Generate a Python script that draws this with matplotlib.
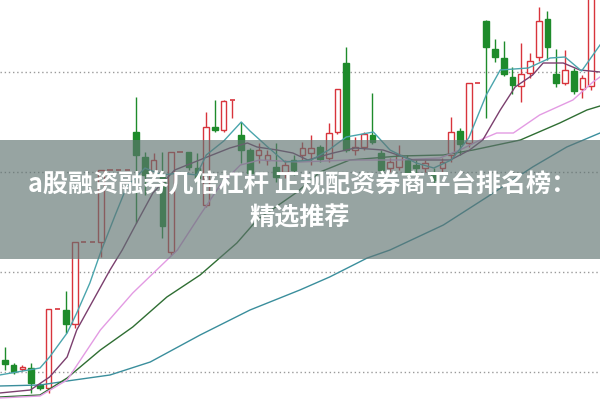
import matplotlib
matplotlib.use("Agg")
import matplotlib.pyplot as plt
from matplotlib.patches import Rectangle

plt.rcParams['font.family'] = ['Noto Sans CJK SC', 'DejaVu Sans']

# OHLC per candle (price units, one candle per index)
opens = [40, 35, 31, 32, 15, 12, 91, 90, 76, 158,
         158, 158, 230, 230, 230, 268, 243, 225, 225, 148,
         248, 248, 232, 195, 273, 270, 300, 265, 250, 245,
         240, 233, 228, 240, 245, 247, 253, 242, 268, 337,
         250, 253, 265, 247, 232, 233, 240, 235, 232, 227,
         232, 245, 269, 257, 317, 379, 351, 342, 323, 314,
         327, 343, 381, 326, 317, 329, 311, 314]
highs = [53, 37, 35, 37, 17, 91, 91, 109, 158, 158,
         158, 230, 230, 230, 230, 303, 248, 247, 248, 248,
         248, 248, 247, 288, 300, 300, 300, 278, 252, 257,
         250, 257, 240, 245, 258, 265, 255, 277, 311, 353,
         263, 268, 307, 250, 242, 255, 245, 240, 240, 232,
         242, 283, 272, 317, 317, 380, 361, 359, 333, 357,
         347, 393, 389, 351, 350, 332, 325, 420]
lows = [30, 26, 29, 7, 10, 7, 91, 67, 72, 158,
        158, 143, 230, 230, 230, 177, 205, 220, 162, 145,
        248, 230, 217, 193, 268, 268, 282, 237, 220, 237,
        235, 218, 222, 225, 240, 235, 238, 238, 266, 248,
        245, 250, 256, 226, 228, 230, 225, 226, 228, 215,
        227, 238, 245, 253, 317, 282, 338, 324, 306, 298,
        322, 339, 340, 313, 315, 306, 302, 310]
closes = [36, 28, 33, 17, 12, 91, 91, 76, 158, 158,
          158, 230, 230, 230, 230, 245, 225, 240, 174, 248,
          248, 233, 222, 273, 270, 299, 300, 250, 227, 250,
          245, 223, 235, 230, 252, 252, 241, 267, 311, 250,
          253, 266, 258, 230, 238, 245, 228, 232, 237, 220,
          238, 268, 256, 317, 317, 353, 343, 326, 315, 326,
          339, 379, 353, 317, 330, 309, 322, 410]

# moving average lines (x = candle index)
ma5_x = [-0.6, 4, 5.1, 7.1, 8.2, 9.7, 10.9, 12.6, 13.9, 16, 17.9, 20, 21.9, 23,
         25, 27, 28, 29.9, 32, 35, 37, 39, 42.1, 44, 47, 49, 51, 53, 55, 56.6,
         59.8, 62.3, 64, 65.9, 68]
ma5_y = [25, 32, 43, 67, 87, 117, 147, 185, 213, 232, 225, 227, 225, 245,
         259, 278, 269, 254, 238, 240, 250, 263, 268, 250, 237, 232, 240, 262, 305, 330,
         332, 342, 343, 329, 355]

ma10_x = [-0.6, 2.9, 5.1, 7.1, 8.2, 10.1, 12, 13.4, 15.1, 16.9, 19.4, 23.1, 25.7,
          27.7, 28.8, 31.1, 32.9, 34.6, 37.5, 40, 43.2, 46.6, 50.9, 53.1, 54.6,
          56.6, 58.3, 60.3, 61.5, 63.8, 65.7, 68]
ma10_y = [7, 10, 23, 43, 70, 100, 130, 150, 178, 207, 230, 243, 252,
          257, 253, 250, 247, 240, 247, 252, 250, 240, 240, 250, 260,
          290, 313, 325, 337, 337, 330, 328]

ma20_x = [-0.6, 4, 7.1, 10.9, 14.6, 19.7, 22.3, 24.6, 26.9, 29.1, 33.7, 39.4,
          45.1, 49.7, 52, 54.3, 56.2, 58.1, 61.1, 64.9, 67.2, 68]
ma20_y = [2, 4, 20, 70, 107, 150, 185, 215, 235, 240, 238, 240,
          240, 242, 250, 260, 267, 267, 285, 300, 318, 323]

ma30_x = [-0.6, 4, 7.1, 10.9, 14.6, 18.5, 22.3, 26.5, 28.8, 33.4, 36, 39.4,
          45.1, 50.1, 53.5, 58.9, 63.4, 66.5, 68]
ma30_y = [3, 5, 22, 50, 73, 103, 125, 157, 180, 208, 228, 240,
          244, 245, 250, 260, 277, 290, 294]

ma60_x = [-0.6, 4, 7.1, 12, 16.6, 22.3, 28, 33.7, 37.1, 41.4, 44, 50.1,
          55.1, 60.3, 64.2, 68]
ma60_y = [14, 15, 19, 25, 38, 65, 90, 110, 123, 142, 150, 175,
          203, 233, 253, 267]

grid_levels = [28, 128, 228, 328]

title_line1 = "a股融资融券几倍杠杆 正规配资券商平台排名榜："
title_line2 = "精选推荐"

RED = '#d8343c'
GREEN = '#1e8b2b'

fig = plt.figure(figsize=(6, 4), dpi=100)
ax = fig.add_axes([0, 0, 1, 1])
ax.set_xlim(-0.57, 68.0)
ax.set_ylim(0, 400)
ax.axis('off')

# dotted price grid
for level in grid_levels:
    ax.axhline(level, color='#9a9a9a', lw=1.0, ls=(0, (1, 2)), zorder=1)

# candles
w = 0.63
for i, (o, h, l, c) in enumerate(zip(opens, highs, lows, closes)):
    up = c >= o
    col = RED if up else GREEN
    top, bot = max(o, c), min(o, c)
    ax.vlines(i, l, h, color=col, lw=1.0, zorder=2)
    if top - bot < 0.5:
        ax.hlines(top, i - w / 2, i + w / 2, color=col, lw=1.2, zorder=3)
    else:
        ax.add_patch(Rectangle((i - w / 2, bot), w, top - bot,
                               facecolor='white' if up else col,
                               edgecolor=col, lw=1.0, zorder=3))

# moving averages
ax.plot(ma60_x, ma60_y, color='#3a8e9c', lw=1.0, zorder=4)
ax.plot(ma30_x, ma30_y, color='#2f6e33', lw=1.0, zorder=4)
ax.plot(ma20_x, ma20_y, color='#e39be3', lw=1.0, zorder=4)
ax.plot(ma10_x, ma10_y, color='#7b3f6e', lw=1.0, zorder=4)
ax.plot(ma5_x, ma5_y, color='#4aa5ad', lw=1.0, zorder=4)

# title banner
ax.add_patch(Rectangle((0, 141 / 400), 1, 119 / 400, transform=ax.transAxes,
                       facecolor='#5f7371', alpha=0.65, lw=0, zorder=5))
ax.text(0.503, 215 / 400, title_line1, transform=ax.transAxes,
        ha='center', va='center', color='white', fontsize=18.1,
        fontweight='bold', zorder=6)
ax.text(0.5, 182 / 400, title_line2, transform=ax.transAxes,
        ha='center', va='center', color='white', fontsize=18.1,
        fontweight='bold', zorder=6)

fig.savefig('out.png', dpi=100)
